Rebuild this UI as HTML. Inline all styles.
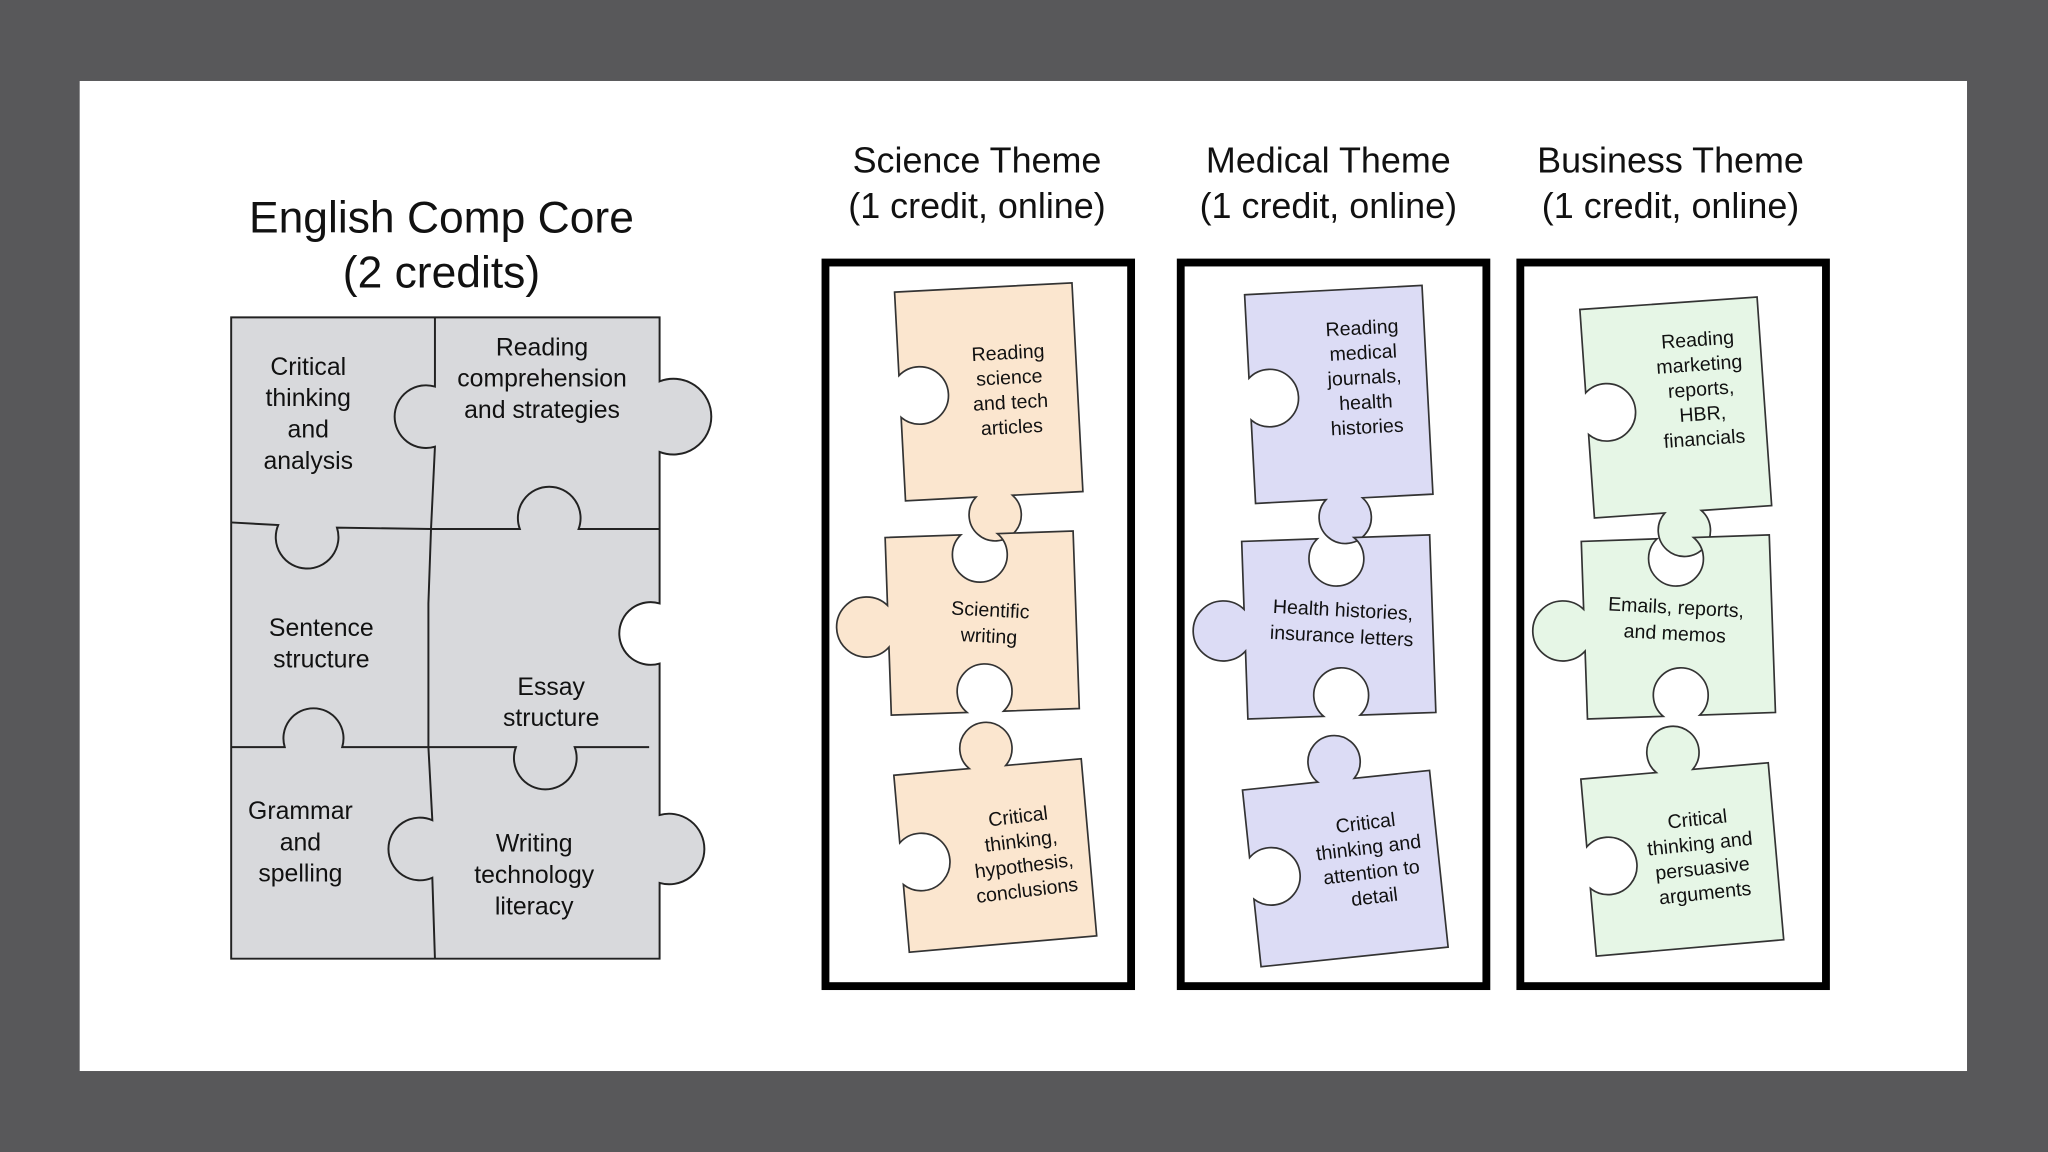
<!DOCTYPE html>
<html><head><meta charset="utf-8"><style>
html,body{margin:0;padding:0;background:#58585a;}
svg{display:block}
text{font-family:"Liberation Sans",Arial,sans-serif;fill:#111}
</style></head><body>
<svg width="2048" height="1152" viewBox="0 0 1568 882" xmlns="http://www.w3.org/2000/svg">
<rect x="0" y="0" width="1568" height="882" fill="#58585a"/>
<rect x="61" y="62" width="1445" height="758" fill="#fff"/>

<text x="338" y="178" font-size="34" text-anchor="middle">English Comp Core</text>
<text x="338" y="220" font-size="34" text-anchor="middle">(2 credits)</text>

<g stroke="#222" stroke-width="1.5" fill="#d8d9dc">
<path d="M177 243 L505 243 L505 292 A29 29 0 1 1 505 346 L505 462 A24 24 0 1 0 505 508 L505 624 A27 27 0 1 1 505 676 L505 734 L177 734 Z"/>
</g>
<g stroke="#222" stroke-width="1.5" fill="none">
<path d="M333 243 L333 296 A24 24 0 1 0 333 342 L330 405 L328 462 L328 572 L331 628 A24 24 0 1 0 331 672 L333 734"/>
<path d="M177 400 L213 402 A24 24 0 1 0 258 404 L330 405 L398 405 A24 24 0 1 1 443 405 L505 405"/>
<path d="M177 572 L218 572 A23 23 0 1 1 262 572 L328 572 L395 572 A24 24 0 1 0 440 572 L497 572"/>
</g>
<g font-size="19" text-anchor="middle">
<text x="236" y="287">Critical</text><text x="236" y="311">thinking</text><text x="236" y="335">and</text><text x="236" y="359">analysis</text>
<text x="415" y="272">Reading</text><text x="415" y="296">comprehension</text><text x="415" y="320">and strategies</text>
<text x="246" y="487">Sentence</text><text x="246" y="511">structure</text>
<text x="422" y="532">Essay</text><text x="422" y="556">structure</text>
<text x="230" y="627">Grammar</text><text x="230" y="651">and</text><text x="230" y="675">spelling</text>
<text x="409" y="652">Writing</text><text x="409" y="676">technology</text><text x="409" y="700">literacy</text>
</g>

<g font-size="27.5" text-anchor="middle">
<text x="748" y="132">Science Theme</text><text x="748" y="167">(1 credit, online)</text>
<text x="1017" y="132">Medical Theme</text><text x="1017" y="167">(1 credit, online)</text>
<text x="1279" y="132">Business Theme</text><text x="1279" y="167">(1 credit, online)</text>
</g>

<g fill="none" stroke="#000" stroke-width="6">
<rect x="632" y="201" width="234" height="554"/>
<rect x="904" y="201" width="234" height="554"/>
<rect x="1164" y="201" width="234" height="554"/>
</g>

<defs>
<path id="pA" d="M-68 -80 L68 -80 L68 80 L14 80 A20 20 0 1 1 -14 80 L-68 80 L-68 16 A22 22 0 1 0 -68 -16 Z"/>
<path id="pB" d="M-72 -68 L-14 -68 A21 21 0 1 0 14 -68 L72 -68 L72 68 L14 68 A21 21 0 1 0 -14 68 L-72 68 L-72 16 A23 23 0 1 1 -72 -16 Z"/>
<path id="pC" d="M-72 -68 L-14 -68 A20 20 0 1 1 14 -68 L72 -68 L72 68 L-72 68 L-72 16 A22 22 0 1 0 -72 -16 Z"/>
</defs>

<g stroke="#333" stroke-width="1.3">
<use href="#pA" transform="translate(757,300) rotate(-3)" fill="#fbe6cf"/>
<use href="#pB" transform="translate(752,477) rotate(-2)" fill="#fbe6cf"/>
<use href="#pC" transform="translate(762,655) rotate(-5)" fill="#fbe6cf"/>
<use href="#pA" transform="translate(1025,302) rotate(-3)" fill="#dcdcf5"/>
<use href="#pB" transform="translate(1025,480) rotate(-2)" fill="#dcdcf5"/>
<use href="#pC" transform="translate(1030,665) rotate(-6)" fill="#dcdcf5"/>
<use href="#pA" transform="translate(1283,312) rotate(-4)" fill="#e6f6e6"/>
<use href="#pB" transform="translate(1285,480) rotate(-2)" fill="#e6f6e6"/>
<use href="#pC" transform="translate(1288,658) rotate(-5)" fill="#e6f6e6"/>
</g>

<g font-size="15" text-anchor="middle">
<g transform="translate(772,275) rotate(-3)"><text y="0">Reading</text><text y="19">science</text><text y="38">and tech</text><text y="57">articles</text></g>
<g transform="translate(758,472) rotate(3)"><text y="0">Scientific</text><text y="20">writing</text></g>
<g transform="translate(780,630) rotate(-7)"><text y="0">Critical</text><text y="19">thinking,</text><text y="38">hypothesis,</text><text y="57">conclusions</text></g>

<g transform="translate(1043,256) rotate(-3)"><text y="0">Reading</text><text y="19">medical</text><text y="38">journals,</text><text y="57">health</text><text y="76">histories</text></g>
<g transform="translate(1028,472) rotate(3)"><text y="0">Health histories,</text><text y="20">insurance letters</text></g>
<g transform="translate(1046,635) rotate(-7)"><text y="0">Critical</text><text y="19">thinking and</text><text y="38">attention to</text><text y="57">detail</text></g>

<g transform="translate(1300,265) rotate(-4)"><text y="0">Reading</text><text y="19">marketing</text><text y="38">reports,</text><text y="57">HBR,</text><text y="76">financials</text></g>
<g transform="translate(1283,470) rotate(3)"><text y="0">Emails, reports,</text><text y="20">and memos</text></g>
<g transform="translate(1300,632) rotate(-6)"><text y="0">Critical</text><text y="19">thinking and</text><text y="38">persuasive</text><text y="57">arguments</text></g>
</g>
</svg>
</body></html>
